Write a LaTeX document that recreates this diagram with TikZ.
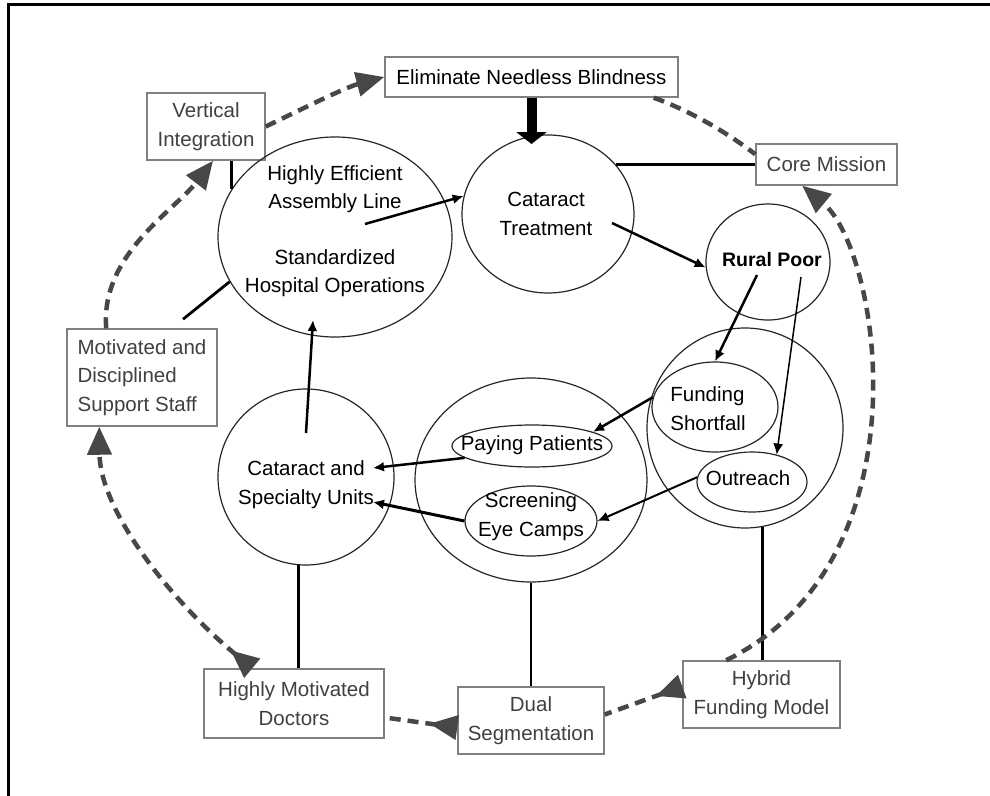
\documentclass[tikz,border=0pt]{standalone}
\usepackage{fontspec}
\setmainfont{Liberation Sans}
\usetikzlibrary{shapes.geometric,arrows.meta,calc}
\newcommand{\fsz}{\fontsize{20.5bp}{28.5bp}\selectfont}
\begin{document}
\begin{tikzpicture}[x=1bp,y=1bp,
  box/.style={draw=black!50, line width=1.5bp, fill=white, inner sep=0pt, align=center, text=black!75, font=\fsz},
  ell/.style={ellipse, draw=black!85, line width=1.2bp, inner sep=0pt},
  lbl/.style={font=\fsz, align=center, inner sep=0pt, text=black},
  plain/.style={draw=black, line width=2.8bp},
  arr/.style={draw=black, line width=2.5bp, -{Latex[length=11bp,width=10bp]}},
  thickarr/.style={draw=black, line width=10bp, -{Triangle[length=12bp,width=30bp]}},
  dsh/.style={draw=black!72, line width=4.5bp, dash pattern=on 11bp off 7bp},
  dend/.style={-{Triangle[length=28bp,width=24bp]}},
  dstart/.style={{Triangle[reversed,length=28bp,width=24bp]}-},
  dboth/.style={{Triangle[reversed,length=28bp,width=24bp]}-{Triangle[length=28bp,width=24bp]}}
]
\useasboundingbox (0,0) rectangle (990,-796);
\fill[white] (-10,10) rectangle (1000,-806);
\draw[line width=2.7bp] (1000,-4.5) -- (8.7,-4.5) -- (8.7,-806);

% boxes
\node[box, text=black, minimum width=293bp, minimum height=40bp] (el) at (531.5,-77) {Eliminate Needless Blindness};
\node[box, minimum width=118bp, minimum height=67bp] (vi) at (206,-126.5) {Vertical\\Integration};
\node[box, minimum width=141bp, minimum height=41bp] (cm) at (826.5,-164.5) {Core Mission};
\node[box, align=left, minimum width=150bp, minimum height=97bp] (mo) at (142,-377.5) {Motivated and\\Disciplined\\Support Staff};
\node[box, minimum width=180bp, minimum height=69bp] (do) at (294,-703.5) {Highly Motivated\\Doctors};
\node[box, minimum width=146bp, minimum height=67bp] (du) at (531,-720.5) {Dual\\Segmentation};
\node[box, minimum width=157bp, minimum height=67bp] (hy) at (761.5,-694.5) {Hybrid\\Funding Model};

% ellipses
\node[ell, minimum width=234bp, minimum height=200bp] (he) at (335,-237) {};
\node[ell, minimum width=172bp, minimum height=158bp] (ct) at (548,-214) {};
\node[ell, minimum width=124bp, minimum height=116bp] (rp) at (768,-262) {};
\node[ell, minimum width=196bp, minimum height=200bp] (fo) at (745,-428) {};
\node[ell, minimum width=126bp, minimum height=90bp] (fs) at (715,-407) {};
\node[ell, minimum width=110bp, minimum height=60bp] (ou) at (752,-482) {};
\node[ell, minimum width=232bp, minimum height=204bp] (mid) at (531,-480) {};
\node[ell, minimum width=160bp, minimum height=42bp] (pp) at (532,-446) {};
\node[ell, minimum width=132bp, minimum height=70bp] (se) at (531,-521) {};
\node[ell, minimum width=176bp, minimum height=176bp] (cs) at (306,-477) {};

% labels
\node[lbl] (het1) at (335,-189) {Highly Efficient\\Assembly Line};
\node[lbl] (het2) at (335,-273) {Standardized\\Hospital Operations};
\node[lbl] (ctt) at (546,-214) {Cataract\\Treatment};
\node[lbl, font=\fontsize{19.5bp}{26bp}\selectfont\bfseries] (rpt) at (772,-260) {Rural Poor};
\node[lbl, align=left] (fst) at (708,-408.5) {Funding\\Shortfall};
\node[lbl] (out) at (748,-478) {Outreach};
\node[lbl] (ppt) at (532,-445) {Paying Patients};
\node[lbl] (set) at (531,-516.5) {Screening\\Eye Camps};
\node[lbl] (cst) at (306,-484.5) {Cataract and\\Specialty Units};

\coordinate (ctTop) at (531.5,-144);

% solid connectors
\draw[thickarr] (el.south) -- (ctTop);
\draw[plain] (he.155) -- (he.155 |- vi.south);
\draw[arr] ([shift={(30,13)}]he.center) -- (ct.168);
\draw[plain] (cm.west) -- (cm.west -| ct.36);
\draw[arr] ([shift={(64,-9)}]ct.center) -- (rp.185);
\draw[plain] ([shift={(41,9)}]mo.north) -- (he.203);
\draw[arr] ([shift={(0,44)}]cs.center) -- ([shift={(-22,-83)}]he.center);
\draw[arr] ([shift={(-11,-13)}]rp.center) -- (fs.north);
\draw[arr, line width=1.5bp] ([shift={(33,-15)}]rp.center) -- (ou.48);
\draw[arr] (fs.171) -- (pp.13);
\draw[arr, line width=2bp] (ou.175) -- (se.east);
\draw[arr] (pp.190) -- ([shift={(67,9)}]cs.center);
\draw[arr, line width=3bp] (se.west) -- ([shift={(67,-25)}]cs.center);
\draw[plain] (cs.265) -- (cs.265 |- do.north);
\draw[plain] (mid.south) -- (mid.south |- du.north);
\draw[plain] (fo.280) -- (fo.280 |- hy.north);

% dashed cycle
\draw[dsh, dend] (vi.east) .. controls (300,-110) and (345,-87.5) .. (el.west);
\draw[dsh, dend] ([shift={(40,0)}]mo.north west) .. controls (100,-255) and (175,-210) .. ([shift={(7,0)}]vi.south);
\draw[dsh] ([shift={(-25,0)}]el.south east) .. controls (688,-110) and (725,-131) .. ([shift={(0,-11)}]cm.north west);
\draw[dsh, dend] ([shift={(44,0)}]hy.north west) .. controls (930,-560) and (880,-250) .. ([shift={(47,0)}]cm.south west);
\draw[dsh, dstart] ([shift={(0,8)}]hy.west) -- ([shift={(0,6)}]du.east);
\draw[dsh, dstart] ([shift={(0,-7)}]du.west) -- ([shift={(0,-14)}]do.east);
\draw[dsh, dboth] ([shift={(49,0)}]do.north west) .. controls (170,-600) and (100,-510) .. ([shift={(33,0)}]mo.south west);
\end{tikzpicture}
\end{document}
